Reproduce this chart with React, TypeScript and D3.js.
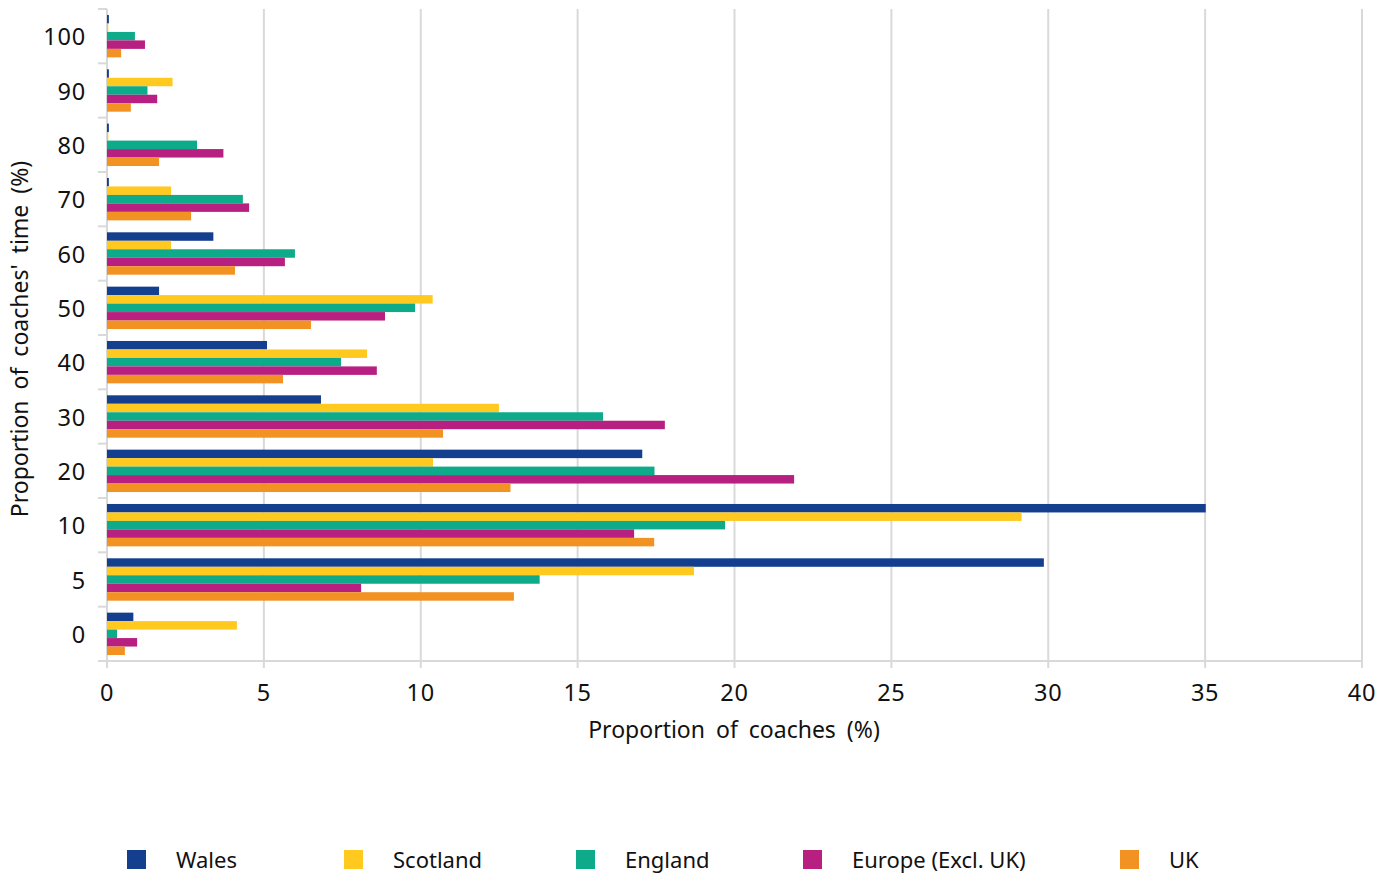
import React from "react";
import * as d3 from "d3";

const categories = ["100", "90", "80", "70", "60", "50", "40", "30", "20", "10", "5", "0"];
const seriesNames = ["Wales", "Scotland", "England", "Europe (Excl. UK)", "UK"];
const colors = ["#143f8f", "#ffc91f", "#0dab8a", "#b71f80", "#f29222"];
const wales = [0.06, 0.06, 0.06, 0.06, 3.39, 1.66, 5.1, 6.82, 17.06, 35.02, 29.86, 0.84];
const scotland = [0.04, 2.09, 0.04, 2.04, 2.04, 10.38, 8.29, 12.49, 10.39, 29.15, 18.71, 4.14];
const england = [0.89, 1.29, 2.87, 4.33, 5.99, 9.82, 7.46, 15.81, 17.45, 19.7, 13.79, 0.32];
const europe = [1.21, 1.6, 3.71, 4.53, 5.67, 8.86, 8.6, 17.78, 21.9, 16.8, 8.1, 0.96];
const uk = [0.45, 0.76, 1.66, 2.68, 4.08, 6.5, 5.61, 10.71, 12.86, 17.44, 12.97, 0.57];
const seriesValues = [wales, scotland, england, europe, uk];
const xTicks = [0, 5, 10, 15, 20, 25, 30, 35, 40];

const FONT = "'Noto Sans', 'Open Sans', sans-serif";

export default function App() {
  const W = 1397, H = 874;
  const x = d3.scaleLinear().domain([0, 40]).range([107, 1362]);
  const y = d3.scaleBand<string>().domain(categories).range([9, 661]).paddingInner(0.22).paddingOuter(0.11);
  const inner = d3.scaleBand<string>().domain(seriesNames).range([0, y.bandwidth()]);
  const step = y.step();
  const boundaries = d3.range(categories.length + 1).map((i) => 9 + i * step);
  const grid = "#d9d9d9";
  const legendX = [127, 344, 576, 803, 1120];

  return (
    <svg width={W} height={H} style={{ position: "absolute", left: 0, top: 0, background: "#fff" }}>
      {xTicks.slice(1).map((t) => (
        <line key={"g" + t} x1={x(t)} x2={x(t)} y1={9} y2={668} stroke={grid} strokeWidth={2} />
      ))}
      <line x1={x(0)} x2={x(0)} y1={9} y2={668} stroke={grid} strokeWidth={2} />
      {boundaries.map((b, i) => (
        <line key={"t" + i} x1={98} x2={107} y1={b} y2={b} stroke={grid} strokeWidth={2} />
      ))}
      <line x1={98} x2={1362} y1={661} y2={661} stroke={grid} strokeWidth={2} />
      {seriesValues.map((vals, si) =>
        vals.map((v, ci) => (
          <rect
            key={si + "-" + ci}
            x={x(0)}
            y={(y(categories[ci]) as number) + (inner(seriesNames[si]) as number)}
            width={x(v) - x(0)}
            height={inner.bandwidth()}
            fill={colors[si]}
          />
        ))
      )}
      {categories.map((c) => (
        <text key={"yl" + c} x={86} y={(y(c) as number) + y.bandwidth() / 2} textAnchor="end" dominantBaseline="central"
          fontFamily={FONT} fontSize={23.5} letterSpacing={0.8} fill="#111">{c}</text>
      ))}
      {xTicks.map((t) => (
        <text key={"xl" + t} x={x(t)} y={692} textAnchor="middle" dominantBaseline="central"
          fontFamily={FONT} fontSize={23.5} letterSpacing={0.8} fill="#111">{t}</text>
      ))}
      <text x={734} y={729} textAnchor="middle" dominantBaseline="central" fontFamily={FONT} fontSize={23}
        fill="#111" wordSpacing={5}>Proportion of coaches (%)</text>
      <text transform="translate(19,339) rotate(-90)" textAnchor="middle" dominantBaseline="central"
        fontFamily={FONT} fontSize={23} fill="#111" wordSpacing={5}>Proportion of coaches' time (%)</text>
      {seriesNames.map((s, i) => (
        <g key={"lg" + s}>
          <rect x={legendX[i]} y={850} width={19} height={19} fill={colors[i]} />
          <text x={legendX[i] + 49} y={859} dominantBaseline="central" fontFamily={FONT} fontSize={22} fill="#111">{s}</text>
        </g>
      ))}
    </svg>
  );
}
